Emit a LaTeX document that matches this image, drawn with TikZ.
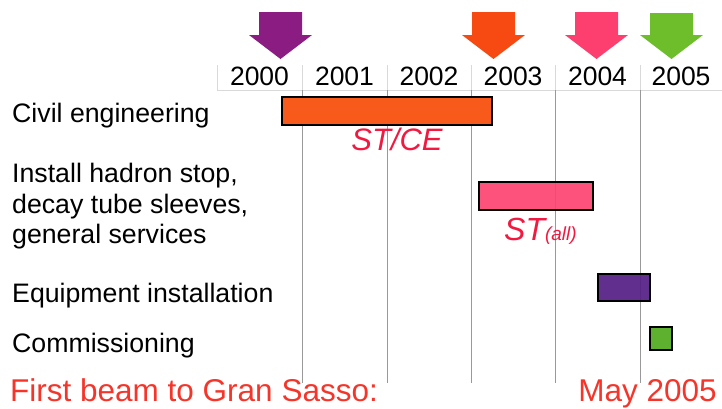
\documentclass[tikz,border=0pt]{standalone}
\usepackage{fontspec}
\setmainfont{Liberation Sans}
\definecolor{cpurple}{HTML}{8B1C82}
\definecolor{corange}{HTML}{F74A12}
\definecolor{cpink}{HTML}{FC3F6E}
\definecolor{cgreen}{HTML}{6DBE2A}
\definecolor{barorange}{HTML}{F75A1A}
\definecolor{barpink}{HTML}{FC4370}
\definecolor{barpurple}{HTML}{541E84}
\definecolor{bargreen}{HTML}{5DB12F}
\definecolor{labred}{HTML}{F2183F}
\definecolor{footred}{HTML}{F5352A}
\tikzset{
  lbl/.style={anchor=base west, inner sep=0pt, font=\fontsize{26.7}{30}\selectfont},
  yr/.style={anchor=base, inner sep=0pt, font=\fontsize{26.5}{30}\selectfont},
  foot/.style={inner sep=0pt, text=footred, font=\fontsize{31.5}{36}\selectfont},
  stlbl/.style={inner sep=0pt, text=labred, font=\fontsize{31}{36}\selectfont\itshape},
  bar/.style={draw=black, line width=1.5pt},
  hdrline/.style={draw=black!15, line width=1pt},
  gridline/.style={draw=black!40, line width=1pt},
}
\newcommand{\downarrowmark}[3]{% color, left x of head, top y
  \fill[#1] (#2+10,#3) -- (#2+53,#3) -- (#2+53,35) -- (#2+63,35) -- (#2+31.5,59) -- (#2,35) -- (#2+10,35) -- cycle;}
\begin{document}
\begin{tikzpicture}[x=1pt,y=-1pt]
\useasboundingbox (0,0) rectangle (722,408);
% header
\draw[hdrline] (217,90) -- (722,90);
\foreach \x in {217,302,387,471,555,640} \draw[hdrline] (\x,65) -- (\x,90);
% grid
\foreach \x in {302,387,471,555,640} \draw[gridline] (\x,90) -- (\x,383);
% years
\node[yr] (y0) at (259.5,85) {2000};
\node[yr] (y1) at (344.5,85) {2001};
\node[yr] (y2) at (429,85) {2002};
\node[yr] (y3) at (513,85) {2003};
\node[yr] (y4) at (597.5,85) {2004};
\node[yr] (y5) at (681,85) {2005};
% arrows
\downarrowmark{cpurple}{249}{12}
\downarrowmark{corange}{462}{12}
\downarrowmark{cpink}{565}{12}
\downarrowmark{cgreen}{640}{13}
% bars
\draw[bar, fill=barorange] (282,97) rectangle (492,125);
\draw[bar, fill=barpink, fill opacity=0.92] (479,182) rectangle (593,210);
\draw[bar, fill=barpurple, fill opacity=0.92] (598,274) rectangle (650,301);
\draw[bar, fill=bargreen] (650,327) rectangle (672,350);
% bar labels
\node[stlbl, anchor=base] (stce) at (397,150) {ST/CE};
\node[stlbl, anchor=base west] (stall) at (504,240) {\fontsize{32}{36}\selectfont ST{\fontsize{19}{22}\selectfont(all)}};
% left labels
\node[lbl] (civ) at (12,122) {Civil engineering};
\node[lbl] (ins1) at (12,182) {Install hadron stop,};
\node[lbl] (ins2) at (12,213) {decay tube sleeves,};
\node[lbl] (ins3) at (12,243) {general services};
\node[lbl] (equ) at (12,302) {Equipment installation};
\node[lbl] (com) at (12,352) {Commissioning};
% footer
\node[foot, anchor=base west] (fb) at (10,401) {First beam to Gran Sasso:};
\node[foot, anchor=base east] (may) at (717,401) {May 2005};
\end{tikzpicture}
\end{document}
